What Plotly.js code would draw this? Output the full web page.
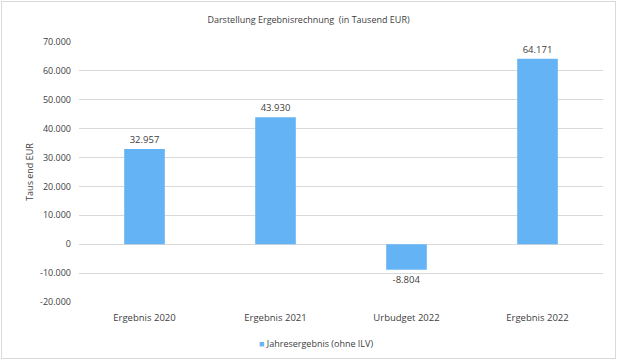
<!DOCTYPE html>
<html><head><meta charset="utf-8">
<script src="https://cdn.plot.ly/plotly-3.0.1.min.js"></script>
<style>html,body{margin:0;padding:0;background:#fff}#c{width:617px;height:360px}
#frame{position:absolute;left:1px;top:1px;width:613px;height:356px;border:1px solid #d9d9d9;pointer-events:none}</style>
</head><body><div id="c"></div><div id="frame"></div>
<script>
const categories = ["Ergebnis 2020", "Ergebnis 2021", "Urbudget 2022", "Ergebnis 2022"];
const values = [32957, 43930, -8804, 64171];
const labels = ["32.957", "43.930", "-8.804", "64.171"];
const seriesName = "Jahresergebnis (ohne ILV)";
const tickVals = [-20000, -10000, 0, 10000, 20000, 30000, 40000, 50000, 60000, 70000];
const tickText = ["-20.000", "-10.000", "0", "10.000", "20.000", "30.000", "40.000", "50.000", "60.000", "70.000"];

const fontFam = "Open Sans, Liberation Sans, sans-serif";
const barColor = "#63b3f5";
Plotly.newPlot("c", [{
  type: "bar",
  x: categories,
  y: values,
  name: seriesName,
  showlegend: false,
  marker: {color: barColor},
  width: 0.31,
  text: labels,
  textposition: "outside",
  cliponaxis: false,
  textfont: {family: fontFam, size: 9.5, color: "#404040"},
  hoverinfo: "none"
}], {
  width: 617, height: 360,
  margin: {l: 79, r: 14, t: 42, b: 58, autoexpand: false},
  paper_bgcolor: "#fff", plot_bgcolor: "#fff",
  title: {text: "Darstellung Ergebnisrechnung  (in Tausend EUR)", font: {family: fontFam, size: 9, color: "#404040"}, x: 0.5, xanchor: "center", y: 0.945, yanchor: "middle"},
  showlegend: false,
  annotations: [{
    xref: "paper", yref: "paper", x: 0.452, y: -0.16, xanchor: "center", yanchor: "middle",
    text: "<span style='color:" + barColor + "'>■</span> " + seriesName,
    showarrow: false, font: {family: fontFam, size: 9, color: "#404040"}
  }],
  xaxis: {tickfont: {family: fontFam, size: 9.5, color: "#404040"}, showline: false, ticks: "", showgrid: false, ticklabelstandoff: 8},
  yaxis: {range: [-20000, 70000], tickvals: tickVals, ticktext: tickText, tickfont: {family: fontFam, size: 9, color: "#404040"},
    gridcolor: "#d9d9d9", gridwidth: 1, zeroline: false, showline: false, ticks: "", ticklen: 0, ticklabelstandoff: 7,
    title: {text: "Taus end EUR", font: {family: fontFam, size: 9, color: "#404040"}, standoff: 4}},
  bargap: 0.69
}, {staticPlot: true, displayModeBar: false});
</script></body></html>
